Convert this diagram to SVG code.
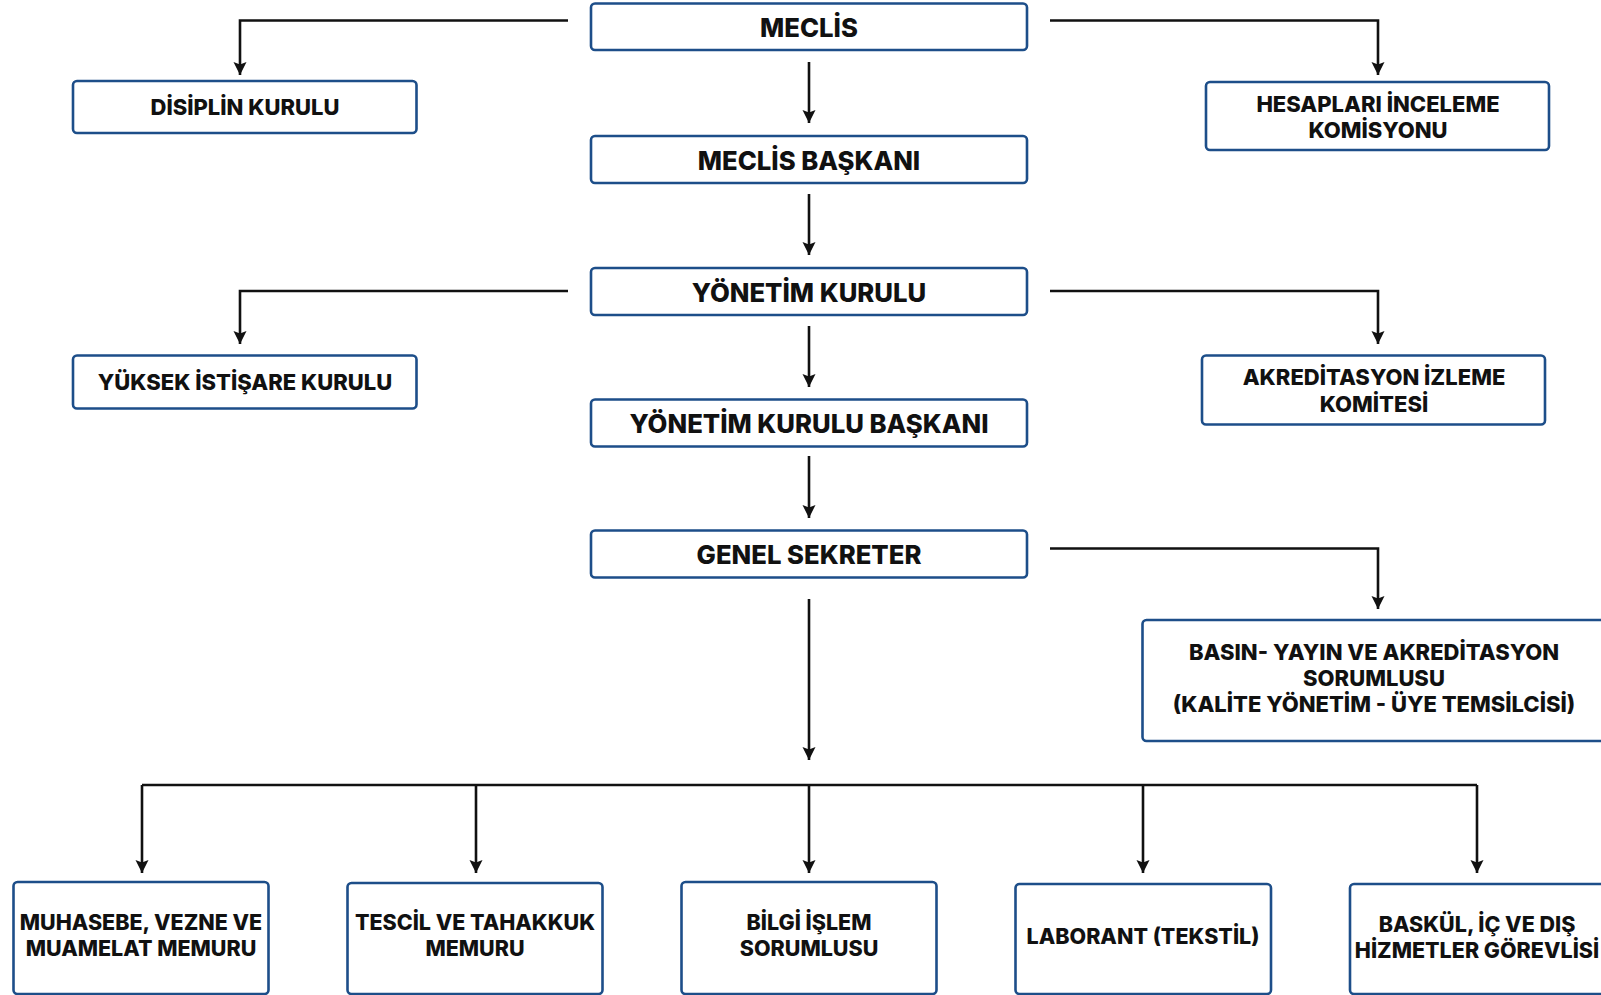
<svg xmlns="http://www.w3.org/2000/svg" width="1601" height="995" viewBox="0 0 1601 995">
<style>
.box{fill:#fff;stroke:#1d4e89;stroke-width:2.6}
.t{font-family:Inter,"Open Sans","Liberation Sans",sans-serif;font-weight:800;fill:#111;text-anchor:middle;dominant-baseline:central}
.m{font-size:25.7px}
.s{font-size:22px}
.b{font-size:21.5px}
.c{fill:none;stroke:#111;stroke-width:2.6}
</style>
<defs>
<marker id="ah" markerUnits="userSpaceOnUse" markerWidth="14" markerHeight="14" viewBox="0 0 14 14" refX="13" refY="7" orient="auto">
<path d="M0,0.5 L13,7 L0,13.5 L2.5,7 z" fill="#111"/>
</marker>
</defs>
<rect width="1601" height="995" fill="#fff"/>
<g id="connectors">
<path class="c" d="M568,20.5 H240 V75" marker-end="url(#ah)"/>
<path class="c" d="M1050,20.5 H1378 V75" marker-end="url(#ah)"/>
<path class="c" d="M809,62 V123" marker-end="url(#ah)"/>
<path class="c" d="M809,194 V255" marker-end="url(#ah)"/>
<path class="c" d="M568,291 H240 V344" marker-end="url(#ah)"/>
<path class="c" d="M1050,291 H1378 V344" marker-end="url(#ah)"/>
<path class="c" d="M809,326 V387" marker-end="url(#ah)"/>
<path class="c" d="M809,456 V518" marker-end="url(#ah)"/>
<path class="c" d="M1050,548.5 H1378 V609" marker-end="url(#ah)"/>
<path class="c" d="M809,599 V760" marker-end="url(#ah)"/>
<path class="c" d="M142,785 H1477"/>
<path class="c" d="M142,785 V873" marker-end="url(#ah)"/>
<path class="c" d="M476,785 V873" marker-end="url(#ah)"/>
<path class="c" d="M809,785 V873" marker-end="url(#ah)"/>
<path class="c" d="M1143,785 V873" marker-end="url(#ah)"/>
<path class="c" d="M1477,785 V873" marker-end="url(#ah)"/>
</g>
<g id="meclis"><rect class="box" x="591" y="3.5" width="436" height="46.5" rx="4"/><text class="t m" x="809" y="27">MECLİS</text></g>
<g id="meclis-baskani"><rect class="box" x="591" y="136" width="436" height="47" rx="4"/><text class="t m" x="809" y="160">MECLİS BAŞKANI</text></g>
<g id="yonetim-kurulu"><rect class="box" x="591" y="268" width="436" height="47" rx="4"/><text class="t m" x="809" y="292">YÖNETİM KURULU</text></g>
<g id="yk-baskani"><rect class="box" x="591" y="399.5" width="436" height="47" rx="4"/><text class="t m" x="809" y="423">YÖNETİM KURULU BAŞKANI</text></g>
<g id="genel-sekreter"><rect class="box" x="591" y="530.5" width="436" height="47" rx="4"/><text class="t m" x="809" y="554">GENEL SEKRETER</text></g>
<g id="disiplin"><rect class="box" x="73" y="81" width="343.5" height="52" rx="4"/><text class="t s" x="245" y="107">DİSİPLİN KURULU</text></g>
<g id="hesaplari"><rect class="box" x="1206" y="82" width="343" height="68" rx="4"/><text class="t s" x="1378" y="103.5">HESAPLARI İNCELEME</text><text class="t s" x="1378" y="130">KOMİSYONU</text></g>
<g id="yuksek"><rect class="box" x="73" y="355.5" width="343.5" height="53" rx="4"/><text class="t s" x="245" y="382">YÜKSEK İSTİŞARE KURULU</text></g>
<g id="akreditasyon"><rect class="box" x="1202" y="355.5" width="343" height="69" rx="4"/><text class="t s" x="1374" y="377">AKREDİTASYON İZLEME</text><text class="t s" x="1374" y="404">KOMİTESİ</text></g>
<g id="basin"><rect class="box" x="1142.5" y="620" width="480" height="121" rx="4"/><text class="t s" x="1374" y="652">BASIN- YAYIN VE AKREDİTASYON</text><text class="t s" x="1374" y="678">SORUMLUSU</text><text class="t s" x="1374" y="704">(KALİTE YÖNETİM - ÜYE TEMSİLCİSİ)</text></g>
<g id="muhasebe"><rect class="box" x="13.5" y="882" width="255" height="112" rx="4"/><text class="t b" x="141" y="922">MUHASEBE, VEZNE VE</text><text class="t b" x="141" y="948">MUAMELAT MEMURU</text></g>
<g id="tescil"><rect class="box" x="347.5" y="883" width="255" height="111" rx="4"/><text class="t b" x="475" y="922">TESCİL VE TAHAKKUK</text><text class="t b" x="475" y="948">MEMURU</text></g>
<g id="bilgi-islem"><rect class="box" x="681.5" y="882" width="255" height="112" rx="4"/><text class="t b" x="809" y="922">BİLGİ İŞLEM</text><text class="t b" x="809" y="948">SORUMLUSU</text></g>
<g id="laborant"><rect class="box" x="1015.5" y="884" width="255.5" height="110" rx="4"/><text class="t b" x="1143" y="936">LABORANT (TEKSTİL)</text></g>
<g id="baskul"><rect class="box" x="1350" y="884" width="260" height="110" rx="4"/><text class="t b" x="1477" y="924">BASKÜL, İÇ VE DIŞ</text><text class="t b" x="1477" y="950">HİZMETLER GÖREVLİSİ</text></g>
</svg>
